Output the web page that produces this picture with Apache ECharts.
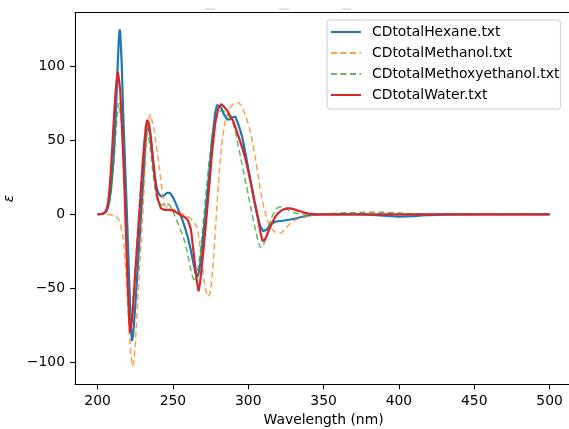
<!DOCTYPE html>
<html>
<head>
<meta charset="utf-8">
<script src="https://cdn.jsdelivr.net/npm/echarts@6/dist/echarts.min.js"></script>
<style>html,body{margin:0;padding:0;background:#fff;overflow:hidden;}#c{width:569px;height:429px;}</style>
</head>
<body>
<div id="c"></div>
<script>
const seriesNames = ['CDtotalHexane.txt','CDtotalMethanol.txt','CDtotalMethoxyethanol.txt','CDtotalWater.txt'];
const wlTicks = [200,250,300,350,400,450,500];
const epsTicks = [-100,-50,0,50,100];

const hexane = [[200,0],[203,0.2],[205,1],[206,2.5],[207,5],[208,10],[209,18],[210,30],[211,45],[212,66],[213,92],[214,117],[214.6,124.6],[215,123],[216,102],[217,68],[218,40],[219,13],[220,-16],[221,-46],[222,-74],[222.8,-85.5],[223.5,-82],[224,-76],[225,-62],[226,-46],[227,-30],[228,-14],[229,2],[230,18],[231,35],[232,51],[233,61],[234,61],[235,54],[236,44],[237,34],[238,25],[239,19],[240,15],[242,12],[244,12.5],[246,14.5],[248,14.5],[250,11.5],[252,7],[254,2],[256,-3],[258,-9],[260,-16],[262,-25],[264,-35],[265,-40],[266.4,-42],[267.5,-38],[269,-26],[270,-15],[272,5],[274,27],[276,50],[278,68],[279.2,73.8],[280,74],[282,72],[284,67],[286,64],[288,64],[290,65.5],[291.4,66],[292,65],[294,59],[296,52],[298,42],[300,31],[302,20],[304,9],[306,-1],[308,-8],[310,-11.5],[312,-10.5],[314,-8],[316,-6],[318,-5],[320,-4.7],[324,-4.2],[328,-3.5],[332,-2.7],[336,-1.7],[340,-0.8],[345,-0.3],[350,0],[370,0],[380,-0.3],[390,-1],[400,-1.6],[410,-1.2],[420,-0.5],[430,-0.2],[450,0],[500,0]];

const methanol = [[200,0],[205,0],[208,-0.3],[210,-0.7],[212,-1],[213,-1.5],[214,-3.5],[215,-7],[216,-11],[217,-16],[218,-27],[219,-43],[220,-60],[221,-78],[222,-94],[223,-102.5],[223.5,-103.5],[224,-100],[225,-88],[226,-70],[227,-52],[228,-34],[229,-17],[230,0],[231,20],[232,42],[233,57],[234,64.5],[235,67.5],[236,67],[237,60],[238,53],[239,46],[240,39],[241,31],[242,23],[243,14],[244,8],[245,5.5],[246,5],[248,4.5],[250,3.5],[252,2.5],[254,1.5],[256,0.5],[258,-0.5],[260,-1.5],[262,-3],[264,-5],[266,-9],[267,-14],[268,-22],[269,-31],[270,-40],[271,-47],[272,-52],[273.3,-55.5],[274.5,-54],[275,-51],[276,-42],[277,-29],[278,-14],[279,2],[280,18],[281,32],[282,43],[283,52],[284,59],[285,64],[286,67.5],[288,72],[290,74.5],[292,75.5],[294,75],[296,72.5],[298,67],[300,61],[302,53],[304,42],[306,30],[308,16.5],[310,6],[312,-2],[314,-7.5],[316,-10.5],[318,-12],[320,-12.8],[322,-12.5],[324,-10.5],[326,-8],[328,-6],[330,-4.5],[333,-3],[336,-2],[340,-1],[345,-0.3],[350,0],[500,0]];

const methoxyethanol = [[200,0],[203,0.2],[205,1],[206,2.5],[207,5],[208,9],[209,15],[210,25],[211,38],[212,53],[213,67],[214,75],[214.5,76],[215,74],[216,62],[217,40],[218,12],[219,-18],[220,-45],[221,-63],[222,-70],[223,-64],[224,-50],[225,-35],[226,-20],[227,-5],[228,10],[229,24],[230,36],[231,46],[232,52],[233,54],[234,51],[235,44],[236,35],[237,26],[238,18],[239,12],[240,9],[242,6.5],[244,6.5],[246,7.5],[247,7.5],[248,6],[250,2],[252,-3],[254,-7.5],[256,-13],[258,-19],[260,-28],[262,-38],[264,-45.5],[265,-45],[266,-41],[268,-27],[270,-7],[272,15],[274,36],[276,53],[278,63],[280,68],[282,70],[284,69.5],[286,67.5],[288,65],[290,61],[292,53],[294,43],[296,33],[298,23],[300,13],[302,3],[304,-7],[306,-16],[308,-22.5],[310,-21],[312,-15],[314,-7],[316,-1],[318,3],[320,4.8],[322,5.1],[324,4.5],[326,3.3],[328,2],[330,1.2],[333,0.5],[336,0.2],[340,0],[350,0.3],[360,0.8],[370,1.2],[380,1.4],[390,1.3],[400,0.8],[410,0.3],[420,0],[500,0]];

const water = [[200,0],[203,0.2],[205,1.5],[206,3.5],[207,8],[208,18],[209,32],[210,50],[211,68],[212,83],[213,94],[213.5,96.2],[214,95],[215,84],[216,62],[217,40],[218,12],[219,-18],[220,-48],[221,-72],[221.5,-80],[222,-79],[223,-70],[224,-55],[225,-40],[226,-25],[227,-10],[228,5],[229,20],[230,35],[231,48],[232,59],[232.8,63.6],[234,61.5],[235,55],[236,45],[237,35],[238,25],[239,16],[240,10],[242,4],[244,3],[246,3],[248,3],[250,2.5],[252,1.5],[254,0.2],[256,-1],[258,-2],[260,-4],[262,-10.5],[264,-28],[266,-46],[267,-52],[268,-46],[269,-37],[270,-27],[272,-5],[274,18],[276,42],[278,61],[280,71],[282,74.4],[284,72.5],[286,70],[288,66.5],[290,63],[292,57],[294,51],[296,45],[298,38],[300,29],[302,19.5],[304,9.5],[306,0],[308,-12],[309.5,-18],[311,-17],[312,-15],[314,-10],[316,-5.5],[318,-1.5],[320,1],[322,2.5],[324,3.5],[326,4],[328,4],[330,3.5],[333,2.5],[336,1.5],[340,0.5],[345,0],[500,0]];

const FONT = 'DejaVu Sans';
const FS = 13.9;
const chart = echarts.init(document.getElementById('c'), null, {renderer:'canvas'});
const dash = [6, 3.5];
chart.setOption({
  animation: false,
  backgroundColor: '#fff',
  grid: {left: 75, top: 12.7, width: 497.2, height: 371.6, show: false, outerBoundsMode: 'none'},
  xAxis: [{
    type: 'value', min: 185, max: 515,
    name: 'Wavelength (nm)', nameLocation: 'middle', nameGap: 28,
    nameTextStyle: {fontFamily: FONT, fontSize: FS, color: '#000'},
    axisLine: {show: true, onZero: false, lineStyle: {color: '#000', width: 1.1}},
    axisTick: {show: true, length: 5, lineStyle: {color: '#000', width: 1.1}, customValues: wlTicks},
    axisLabel: {fontFamily: FONT, fontSize: FS, color: '#000', margin: 10, customValues: wlTicks},
    splitLine: {show: false}
  }, {
    type: 'value', min: 185, max: 515, position: 'top',
    axisLine: {show: true, onZero: false, lineStyle: {color: '#000', width: 1.1}},
    axisTick: {show: false}, axisLabel: {show: false}, splitLine: {show: false}
  }],
  yAxis: {
    type: 'value', min: -114.7, max: 136,
    name: 'ε', nameLocation: 'middle', nameGap: 56, nameRotate: 90,
    nameTextStyle: {fontFamily: FONT, fontSize: FS, color: '#000', fontStyle: 'italic'},
    axisLine: {show: true, onZero: false, lineStyle: {color: '#000', width: 1.1}},
    axisTick: {show: true, length: 5, lineStyle: {color: '#000', width: 1.1}, customValues: epsTicks},
    axisLabel: {fontFamily: FONT, fontSize: FS, color: '#000', margin: 10, customValues: epsTicks,
      formatter: v => (v < 0 ? '\u2212' + Math.abs(v) : String(v))},
    splitLine: {show: false}
  },
  legend: {
    orient: 'vertical', left: 327, top: 20,
    padding: [5, 1, 7, 3], itemWidth: 30, itemHeight: 14, itemGap: 7,
    borderColor: '#ccc', borderWidth: 1, borderRadius: 3, backgroundColor: 'rgba(255,255,255,0.8)',
    itemStyle: {opacity: 0},
    textStyle: {fontFamily: FONT, fontSize: FS, color: '#000', padding: [0, 0, 0, 6]},
    data: seriesNames
  },
  graphic: [
    {type: 'line', shape: {x1: 205, y1: 9, x2: 215, y2: 9}, style: {stroke: '#c8c8c8', lineWidth: 1}},
    {type: 'line', shape: {x1: 279, y1: 9, x2: 289, y2: 9}, style: {stroke: '#c8c8c8', lineWidth: 1}},
    {type: 'line', shape: {x1: 342, y1: 9, x2: 351, y2: 9}, style: {stroke: '#c8c8c8', lineWidth: 1}}
  ],
  series: [
    {name: seriesNames[0], type: 'line', data: hexane, symbol: 'none', showSymbol: false,
      lineStyle: {color: '#1f77b4', width: 2.2}, itemStyle: {color: '#1f77b4'}},
    {name: seriesNames[1], type: 'line', data: methanol, symbol: 'none', showSymbol: false,
      lineStyle: {color: '#ff7f0e', width: 1.5, type: dash, opacity: 0.75}, itemStyle: {color: '#ff7f0e'}},
    {name: seriesNames[2], type: 'line', data: methoxyethanol, symbol: 'none', showSymbol: false,
      lineStyle: {color: '#2ca02c', width: 1.5, type: dash, opacity: 0.75}, itemStyle: {color: '#2ca02c'}},
    {name: seriesNames[3], type: 'line', data: water, symbol: 'none', showSymbol: false,
      lineStyle: {color: '#d62728', width: 2.2}, itemStyle: {color: '#d62728'}}
  ]
});
</script>
</body>
</html>
